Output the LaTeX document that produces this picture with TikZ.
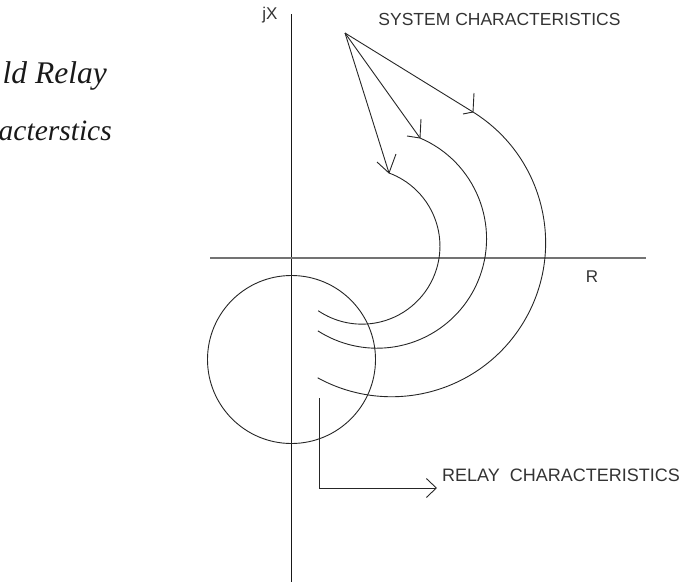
\documentclass[tikz,border=0pt]{standalone}
\usepackage{fontspec}
\setmainfont{Liberation Serif}
\setsansfont{Liberation Sans}
\usetikzlibrary{arrows.meta}
\begin{document}
\begin{tikzpicture}[x=1pt,y=-1pt,
  ln/.style={line width=0.9pt, draw=black!85},
  axisv/.style={line width=1pt, draw=black!90},
  axish/.style={line width=1.3pt, draw=black!55},
  lbl/.style={font=\sffamily\fontsize{17}{20}\selectfont, text=black!80, inner sep=0pt},
  ttl/.style={font=\itshape\fontsize{29.5}{36}\selectfont, text=black!90, inner sep=0pt, anchor=base east},
  relaycirc/.style={circle, line width=0.9pt, draw=black!85, minimum size=168pt, inner sep=0pt},
  tip/.style={-{Straight Barb[length=10pt,width=19pt]}},
]
\useasboundingbox (0,0) rectangle (681,587);

% title (only the part visible at the left edge)
\node[ttl, font=\itshape\fontsize{31.5}{36}\selectfont] (title1) at (107,83) {ld Relay};
\node[ttl] (title2) at (112,140) {acterstics};

% axes
\coordinate (vt) at (291.5,14);
\coordinate (vb) at (291.5,582);
\coordinate (hl) at (210,258);
\coordinate (hr) at (646,258);
\draw[axisv] (vt) -- (vb);
\draw[axish] (hl) -- (hr);
\node[lbl] (jx) at (270,15) {jX};
\node[lbl] (raxis) at (592,277) {R};

% relay circle
\node[relaycirc] (relay) at (291.5,359.5) {};

% system characteristics
\node[lbl, font=\sffamily\fontsize{17.5}{20}\selectfont] (sys) at (499.5,19) {SYSTEM CHARACTERISTICS};
\coordinate (so) at (345,33);
\coordinate (t1) at (473,112);
\coordinate (t2) at (420,138);
\coordinate (t3) at (389,173);
\draw[ln] (so) -- (t1);
\draw[ln] (so) -- (t2);
\draw[ln] (so) -- (t3);
% arrow barbs
\draw[ln] (t1) -- ++(1,-19);
\draw[ln] (t1) -- ++(-10,2);
\draw[ln] (t2) -- ++(1,-19);
\draw[ln] (t2) -- ++(-13,-2);
\draw[ln] (t3) -- ++(7,-19);
\draw[ln] (t3) -- ++(-12,-11);
% characteristic curves
\draw[ln] (t1) arc[start angle=-58.1, end angle=118.7, radius=154];
\draw[ln] (t2) arc[start angle=-66.9, end angle=122.7, radius=109.5];
\draw[ln] (t3) arc[start angle=-69.7, end angle=124.1, radius=78];

% relay characteristics pointer
\coordinate (r0) at (319,398);
\coordinate (rtip) at (437,488);
\draw[ln, tip] (r0) |- (rtip);
\node[lbl, font=\sffamily\fontsize{18}{20}\selectfont, anchor=west] (relaytxt) at (442,475) {RELAY\ \ CHARACTERISTICS};
\end{tikzpicture}
\end{document}
